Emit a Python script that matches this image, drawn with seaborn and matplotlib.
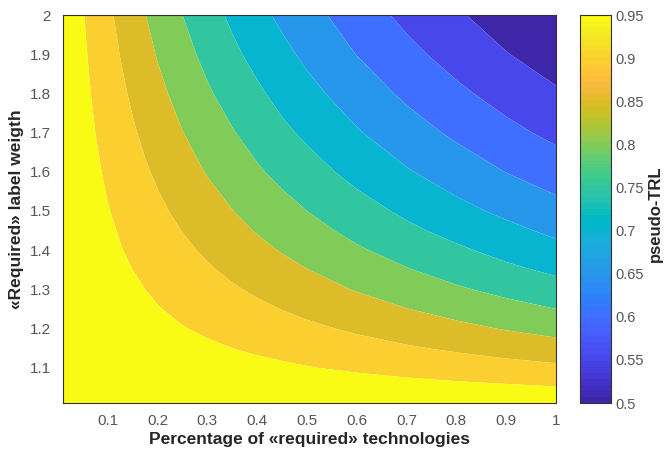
import numpy as np
import matplotlib
matplotlib.use("Agg")
import matplotlib.pyplot as plt
import seaborn as sns
from matplotlib.colors import ListedColormap, Normalize
from matplotlib.cm import ScalarMappable

# grid (x = share of «required» technologies, y = label weight)
pct_required = [0.01, 0.05, 0.075, 0.1, 0.125, 0.15, 0.175, 0.2, 0.25, 0.3,
                0.35, 0.4, 0.45, 0.5, 0.6, 0.7, 0.8, 0.9, 1.0]
label_weight = [1.01, 1.05, 1.075, 1.1, 1.15, 1.2, 1.25, 1.3, 1.35, 1.4,
                1.45, 1.5, 1.6, 1.7, 1.8, 1.9, 2.0]

# pseudo-TRL values, one row per label weight
trl = [
    [1.000, 1.000, 0.999, 0.999, 0.999, 0.999, 0.998, 0.998, 0.998, 0.997, 0.997, 0.996, 0.996, 0.995, 0.994, 0.993, 0.992, 0.991, 0.990],
    [1.000, 0.998, 0.996, 0.995, 0.994, 0.993, 0.991, 0.990, 0.988, 0.985, 0.983, 0.980, 0.978, 0.976, 0.971, 0.966, 0.962, 0.957, 0.952],
    [0.999, 0.996, 0.994, 0.993, 0.991, 0.989, 0.987, 0.985, 0.982, 0.978, 0.974, 0.971, 0.967, 0.964, 0.957, 0.950, 0.943, 0.937, 0.930],
    [0.999, 0.995, 0.993, 0.990, 0.988, 0.985, 0.983, 0.980, 0.976, 0.971, 0.966, 0.962, 0.957, 0.952, 0.943, 0.935, 0.926, 0.917, 0.909],
    [0.999, 0.993, 0.989, 0.985, 0.982, 0.978, 0.974, 0.971, 0.964, 0.957, 0.950, 0.943, 0.937, 0.930, 0.917, 0.905, 0.893, 0.881, 0.870],
    [0.998, 0.990, 0.985, 0.980, 0.976, 0.971, 0.966, 0.962, 0.952, 0.943, 0.935, 0.926, 0.917, 0.909, 0.893, 0.877, 0.862, 0.847, 0.833],
    [0.998, 0.988, 0.982, 0.976, 0.970, 0.964, 0.958, 0.952, 0.941, 0.930, 0.920, 0.909, 0.899, 0.889, 0.870, 0.851, 0.833, 0.816, 0.800],
    [0.997, 0.985, 0.978, 0.971, 0.964, 0.957, 0.950, 0.943, 0.930, 0.917, 0.905, 0.893, 0.881, 0.870, 0.847, 0.826, 0.806, 0.787, 0.769],
    [0.997, 0.983, 0.974, 0.966, 0.958, 0.950, 0.942, 0.935, 0.920, 0.905, 0.891, 0.877, 0.864, 0.851, 0.826, 0.803, 0.781, 0.760, 0.741],
    [0.996, 0.980, 0.971, 0.962, 0.952, 0.943, 0.935, 0.926, 0.909, 0.893, 0.877, 0.862, 0.847, 0.833, 0.806, 0.781, 0.758, 0.735, 0.714],
    [0.996, 0.978, 0.967, 0.957, 0.947, 0.937, 0.927, 0.917, 0.899, 0.881, 0.864, 0.847, 0.832, 0.816, 0.787, 0.760, 0.735, 0.712, 0.690],
    [0.995, 0.976, 0.964, 0.952, 0.941, 0.930, 0.920, 0.909, 0.889, 0.870, 0.851, 0.833, 0.816, 0.800, 0.769, 0.741, 0.714, 0.690, 0.667],
    [0.994, 0.971, 0.957, 0.943, 0.930, 0.917, 0.905, 0.893, 0.870, 0.847, 0.826, 0.806, 0.787, 0.769, 0.735, 0.704, 0.676, 0.649, 0.625],
    [0.993, 0.966, 0.950, 0.935, 0.920, 0.905, 0.891, 0.877, 0.851, 0.826, 0.803, 0.781, 0.760, 0.741, 0.704, 0.671, 0.641, 0.613, 0.588],
    [0.992, 0.962, 0.943, 0.926, 0.909, 0.893, 0.877, 0.862, 0.833, 0.806, 0.781, 0.758, 0.735, 0.714, 0.676, 0.641, 0.610, 0.581, 0.556],
    [0.991, 0.957, 0.937, 0.917, 0.899, 0.881, 0.864, 0.847, 0.816, 0.787, 0.760, 0.735, 0.712, 0.690, 0.649, 0.613, 0.581, 0.552, 0.526],
    [0.990, 0.952, 0.930, 0.909, 0.889, 0.870, 0.851, 0.833, 0.800, 0.769, 0.741, 0.714, 0.690, 0.667, 0.625, 0.588, 0.556, 0.526, 0.500],
]

levels = [0.5, 0.55, 0.6, 0.65, 0.7, 0.75, 0.8, 0.85, 0.9, 0.95, 1.01]
cbar_ticks = [0.5, 0.55, 0.6, 0.65, 0.7, 0.75, 0.8, 0.85, 0.9, 0.95]
cbar_labels = ["0.5", "0.55", "0.6", "0.65", "0.7", "0.75", "0.8", "0.85", "0.9", "0.95"]
x_ticks = [0.1, 0.2, 0.3, 0.4, 0.5, 0.6, 0.7, 0.8, 0.9, 1.0]
x_labels = ["0.1", "0.2", "0.3", "0.4", "0.5", "0.6", "0.7", "0.8", "0.9", "1"]
y_ticks = [1.1, 1.2, 1.3, 1.4, 1.5, 1.6, 1.7, 1.8, 1.9, 2.0]
y_labels = ["1.1", "1.2", "1.3", "1.4", "1.5", "1.6", "1.7", "1.8", "1.9", "2"]

# MATLAB parula (64 entries)
parula = ListedColormap([
    [0.2422, 0.1504, 0.6603], [0.2504, 0.1650, 0.7076], [0.2578, 0.1818, 0.7511], [0.2647, 0.1978, 0.7952],
    [0.2706, 0.2147, 0.8364], [0.2751, 0.2342, 0.8710], [0.2783, 0.2559, 0.8991], [0.2803, 0.2782, 0.9221],
    [0.2813, 0.3006, 0.9414], [0.2810, 0.3228, 0.9579], [0.2795, 0.3447, 0.9717], [0.2760, 0.3667, 0.9829],
    [0.2699, 0.3892, 0.9906], [0.2602, 0.4123, 0.9952], [0.2440, 0.4358, 0.9988], [0.2206, 0.4603, 0.9973],
    [0.1963, 0.4847, 0.9892], [0.1834, 0.5074, 0.9798], [0.1786, 0.5289, 0.9682], [0.1764, 0.5499, 0.9520],
    [0.1687, 0.5703, 0.9359], [0.1540, 0.5902, 0.9218], [0.1460, 0.6091, 0.9079], [0.1380, 0.6276, 0.8973],
    [0.1248, 0.6459, 0.8883], [0.1113, 0.6635, 0.8763], [0.0952, 0.6798, 0.8598], [0.0689, 0.6948, 0.8394],
    [0.0297, 0.7082, 0.8163], [0.0036, 0.7203, 0.7917], [0.0067, 0.7312, 0.7660], [0.0433, 0.7411, 0.7394],
    [0.0964, 0.7500, 0.7120], [0.1408, 0.7584, 0.6842], [0.1717, 0.7670, 0.6554], [0.1938, 0.7758, 0.6251],
    [0.2161, 0.7843, 0.5923], [0.2470, 0.7918, 0.5567], [0.2906, 0.7973, 0.5188], [0.3406, 0.8008, 0.4789],
    [0.3909, 0.8029, 0.4354], [0.4456, 0.8024, 0.3909], [0.5044, 0.7993, 0.3480], [0.5616, 0.7942, 0.3045],
    [0.6174, 0.7876, 0.2612], [0.6720, 0.7793, 0.2227], [0.7242, 0.7698, 0.1910], [0.7738, 0.7598, 0.1646],
    [0.8203, 0.7498, 0.1535], [0.8634, 0.7406, 0.1596], [0.9035, 0.7330, 0.1774], [0.9393, 0.7288, 0.2100],
    [0.9728, 0.7298, 0.2394], [0.9956, 0.7434, 0.2371], [0.9970, 0.7659, 0.2199], [0.9952, 0.7893, 0.2028],
    [0.9892, 0.8136, 0.1885], [0.9786, 0.8386, 0.1766], [0.9676, 0.8639, 0.1643], [0.9610, 0.8890, 0.1537],
    [0.9597, 0.9135, 0.1423], [0.9628, 0.9373, 0.1265], [0.9691, 0.9606, 0.1064], [0.9769, 0.9839, 0.0805],
], name="parula")

sns.set_style("white")
plt.rcParams["font.family"] = ["Liberation Sans", "DejaVu Sans"]
plt.rcParams["xtick.direction"] = "in"
plt.rcParams["ytick.direction"] = "in"

norm = Normalize(vmin=0.5, vmax=0.95)
band_colors = [parula(norm(lv)) for lv in levels[:-1]]

fig = plt.figure(figsize=(6.64, 4.54), dpi=100)
ax = fig.add_axes([0.0949, 0.1123, 0.7425, 0.8546])
cax = fig.add_axes([0.8735, 0.1123, 0.0467, 0.8546])

X, Y = np.meshgrid(pct_required, label_weight)
ax.contourf(X, Y, np.array(trl), levels=levels, colors=band_colors, antialiased=True)

ax.set_xlim(0.01, 1.0)
ax.set_ylim(1.01, 2.0)
ax.set_xticks(x_ticks, x_labels)
ax.set_yticks(y_ticks, y_labels)
ax.tick_params(top=True, right=True, length=4, width=0.7, color="#333333",
               labelsize=11, labelcolor="#555555")
ax.tick_params(axis="x", pad=8)
ax.tick_params(axis="y", pad=9)
for s in ax.spines.values():
    s.set_color("#333333")
    s.set_linewidth(0.8)
ax.set_xlabel("Percentage of «required» technologies", fontsize=12.5, fontweight="bold", labelpad=3)
ax.set_ylabel("«Required» label weigth", fontsize=12.5, fontweight="bold", labelpad=4)

sm = ScalarMappable(norm=norm, cmap=parula)
cb = fig.colorbar(sm, cax=cax)
cb.set_ticks(cbar_ticks, labels=cbar_labels)
cb.ax.tick_params(direction="in", length=4, width=0.7, color="#333333",
                  labelsize=10.5, labelcolor="#555555", pad=3)
cb.outline.set_edgecolor("#333333")
cb.outline.set_linewidth(0.8)
fig.text(655 / 664, 1 - 214 / 454, "pseudo-TRL", rotation=90, ha="center", va="center",
         fontsize=12, fontweight="bold")

fig.savefig("out.png", dpi=100)
